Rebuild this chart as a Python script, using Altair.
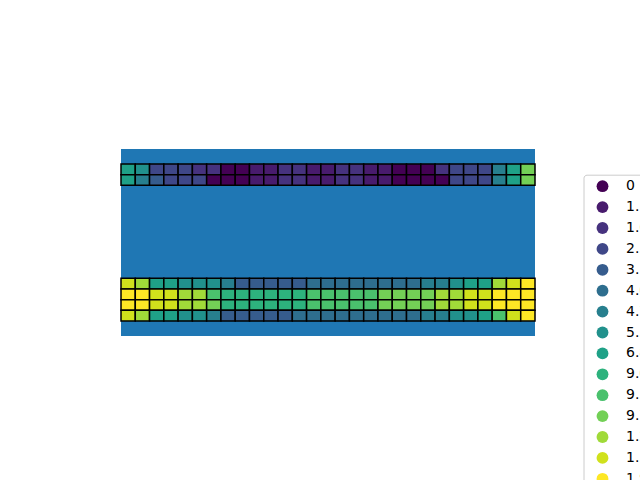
import altair as alt
import pandas as pd

# colour levels (index into legend) for each row of the two blocks, 29 columns each
row_a = [8, 7, 3, 3, 3, 2, 2, 0, 0, 1, 1, 2, 2, 1, 1, 2, 2, 1, 1, 0, 0, 0, 2, 3, 3, 3, 6, 8, 11]
row_b = [8, 6, 4, 3, 3, 3, 0, 0, 0, 1, 1, 2, 2, 1, 1, 2, 2, 1, 1, 0, 0, 0, 0, 3, 3, 3, 6, 8, 11]
row_c = [13, 12, 8, 8, 7, 7, 7, 6, 4, 4, 4, 4, 4, 5, 5, 5, 5, 5, 5, 5, 5, 6, 6, 7, 8, 8, 12, 13, 14]
row_d = [14, 14, 13, 13, 12, 12, 10, 9, 9, 9, 9, 9, 9, 10, 10, 10, 10, 10, 11, 11, 11, 11, 12, 12, 13, 13, 14, 14, 14]
row_e = [14, 14, 13, 13, 12, 12, 11, 9, 9, 9, 9, 9, 9, 10, 10, 10, 10, 10, 11, 11, 11, 11, 12, 12, 13, 13, 14, 14, 14]
row_f = [13, 12, 8, 8, 7, 7, 6, 4, 4, 4, 4, 4, 5, 5, 5, 5, 5, 5, 5, 5, 5, 6, 6, 7, 7, 8, 10, 13, 14]

top_rows = [row_a, row_b]
bottom_rows = [row_c, row_d, row_e, row_f]

legend_labels = ["0", "1.1e-05", "1.6e-05", "2.3e-05", "3.1e-05", "4.0e-05", "4.7e-05",
                 "5.5e-05", "6.8e-05", "9.0e-05", "9.3e-05", "9.7e-05", "1.2e-04",
                 "1.5e-04", "1.9e-04"]
level_colors = ["#440154", "#481b6d", "#46327e", "#3f4788", "#365c8d", "#2e6e8e", "#277f8e",
                "#21918c", "#1fa187", "#2db27d", "#4ac16d", "#73d056", "#a0da39",
                "#d0e11c", "#fde725"]

n_cols = len(row_a)
top_start = 1.4
bottom_start = 12.1
y_extent = 17.5

records = []
for block_start, rows in ((top_start, top_rows), (bottom_start, bottom_rows)):
    for r, levels in enumerate(rows):
        for c, lv in enumerate(levels):
            records.append({
                "x0": c, "x1": c + 1,
                "y0": block_start + r, "y1": block_start + r + 1,
                "label": legend_labels[lv],
            })
df = pd.DataFrame(records)

chart = alt.Chart(df).mark_rect(stroke="black", strokeWidth=1.5).encode(
    x=alt.X("x0:Q", scale=alt.Scale(domain=[0, n_cols], nice=False, zero=False), axis=None),
    x2="x1:Q",
    y=alt.Y("y0:Q", scale=alt.Scale(domain=[0, y_extent], nice=False, zero=False, reverse=True), axis=None),
    y2="y1:Q",
    color=alt.Color(
        "label:N",
        scale=alt.Scale(domain=legend_labels, range=level_colors),
        legend=alt.Legend(
            title=None,
            orient="none",
            legendX=462.5,
            legendY=25.7,
            direction="vertical",
            symbolType="circle",
            symbolSize=140,
            symbolStrokeWidth=0,
            symbolOpacity=1,
            labelFont="DejaVu Sans",
            labelFontSize=14,
            labelColor="black",
            fillColor="white",
            strokeColor="#cccccc",
            cornerRadius=3,
            padding=4.5,
            rowPadding=6.9,
            symbolOffset=7.5,
            labelOffset=16.5,
        ),
    ),
).properties(
    width=414,
    height=187,
    autosize=alt.AutoSizeParams(type="none"),
    padding={"left": 121, "top": 149, "right": 105, "bottom": 144},
).configure_view(fill="#1f77b4", strokeWidth=0)

chart.save("out.html", embed_options={"renderer": "svg", "actions": False})
